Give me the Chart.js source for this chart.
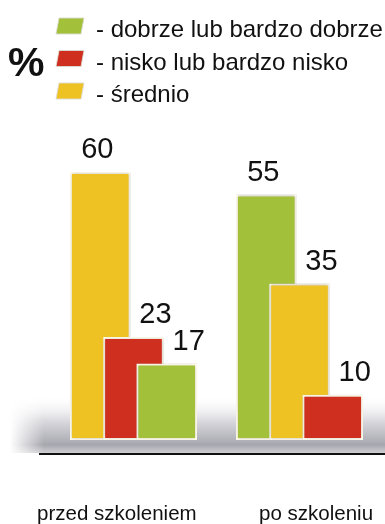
<!DOCTYPE html>
<html lang="pl">
<head>
<meta charset="UTF-8">
<title>Ocena przed i po szkoleniu</title>
<script src="https://cdn.jsdelivr.net/npm/chart.js@4"></script>
<style>
    html, body { margin: 0; padding: 0; background: #fff; }
    #wrap { width: 385px; height: 524px; position: relative; }
</style>
</head>
<body>
<div id="wrap"><canvas id="chart"></canvas></div>
<script>
const categories = ['przed szkoleniem', 'po szkoleniu'];
const seriesNames = ['- dobrze lub bardzo dobrze', '- nisko lub bardzo nisko', '- średnio'];
const seriesColors = ['#a3c03a', '#cf2f1f', '#efc224'];
const dobrze = [17, 55];
const nisko = [23, 10];
const srednio = [60, 35];
const seriesValues = [dobrze, nisko, srednio];

const FONT = "'Liberation Sans', Arial, Helvetica, sans-serif";

// bars of a group stand from the largest (back) to the smallest (front)
const groupOrder = categories.map((c, g) =>
    [0, 1, 2].sort((a, b) => seriesValues[b][g] - seriesValues[a][g]));

const datasets = [0, 1, 2].map(layer => ({
    label: 'warstwa ' + layer,
    data: categories.map((c, g) => ({ x: g + (layer - 1) * 0.2, y: seriesValues[groupOrder[g][layer]][g] })),
    backgroundColor: categories.map((c, g) => seriesColors[groupOrder[g][layer]]),
    borderColor: '#fffbea',
    borderWidth: 2,
    borderSkipped: false,
    barThickness: 60,
    grouped: false,
    order: 3 - layer
}));

const floorPlugin = {
    id: 'floor',
    beforeDatasetsDraw(chart) {
        const { ctx, chartArea } = chart;
        const top = chartArea.bottom - 58;
        const left = chartArea.left - 30;
        const g = ctx.createLinearGradient(0, top, 0, chartArea.bottom);
        g.addColorStop(0, 'rgba(255,255,255,0)');
        g.addColorStop(0.45, 'rgba(212,212,218,0.9)');
        g.addColorStop(0.86, '#a6a6ae');
        g.addColorStop(1, '#cfcfd3');
        ctx.save();
        ctx.fillStyle = g;
        ctx.fillRect(left, top, chartArea.right - left, chartArea.bottom - top);
        // soft left end of the floor
        const h = ctx.createLinearGradient(left, 0, left + 34, 0);
        h.addColorStop(0, 'rgba(255,255,255,1)');
        h.addColorStop(1, 'rgba(255,255,255,0)');
        ctx.fillStyle = h;
        ctx.fillRect(left, top, 34, chartArea.bottom - top);
        ctx.restore();
    },
    beforeDatasetDraw(chart) {
        chart.ctx.save();
        chart.ctx.shadowColor = 'rgba(60,60,90,0.35)';
        chart.ctx.shadowBlur = 3;
    },
    afterDatasetDraw(chart) {
        chart.ctx.restore();
    }
};

const valuePlugin = {
    id: 'values',
    afterDatasetsDraw(chart) {
        const { ctx } = chart;
        ctx.save();
        ctx.fillStyle = '#111';
        ctx.font = '29px ' + FONT;
        ctx.textAlign = 'center';
        ctx.textBaseline = 'alphabetic';
        chart.data.datasets.forEach((ds, layer) => {
            chart.getDatasetMeta(layer).data.forEach((bar, i) => {
                const dx = layer === 0 ? -3 : 22;
                ctx.fillText(String(ds.data[i].y), bar.x + dx, bar.y - 14);
            });
        });
        ctx.restore();
    }
};

const legendPlugin = {
    id: 'legendBox',
    afterDraw(chart) {
        const { ctx } = chart;
        ctx.save();
        ctx.fillStyle = '#111';
        ctx.font = 'bold 41px ' + FONT;
        ctx.textBaseline = 'alphabetic';
        ctx.fillText('%', 8, 76);
        ctx.font = '24px ' + FONT;
        seriesNames.forEach((name, i) => {
            const base = 37 + i * 32.5;
            ctx.beginPath();
            ctx.moveTo(59, base - 19);
            ctx.lineTo(84, base - 19);
            ctx.lineTo(81, base - 3);
            ctx.lineTo(56, base - 3);
            ctx.closePath();
            ctx.fillStyle = seriesColors[i];
            ctx.fill();
            ctx.strokeStyle = 'rgba(220,220,210,0.9)';
            ctx.lineWidth = 1;
            ctx.stroke();
            ctx.fillStyle = '#111';
            ctx.fillText(name, 96, base);
        });
        ctx.restore();
    }
};

new Chart(document.getElementById('chart'), {
    type: 'bar',
    data: { datasets: datasets },
    options: {
        responsive: true,
        maintainAspectRatio: false,
        animation: false,
        layout: { padding: { top: 119, left: 40, right: 0, bottom: 0 } },
        plugins: {
            legend: { display: false },
            tooltip: { enabled: false }
        },
        scales: {
            x: {
                type: 'linear',
                offset: false,
                min: -0.563,
                max: 1.515,
                grid: { display: false, drawTicks: false },
                border: { display: true, color: '#111', width: 3 },
                afterBuildTicks: scale => {
                    scale.ticks = categories.map((c, i) => ({ value: i + (i - 0.5) * 0.2 }));
                },
                afterFit: scale => {
                    // labels sit low under the floor; keep the plot wide
                    scale.paddingLeft = 0;
                    scale.paddingRight = 0;
                    scale.height = 71;
                },
                ticks: {
                    autoSkip: false,
                    maxRotation: 0,
                    padding: 49,
                    color: '#111',
                    font: { family: FONT, size: 20.5 },
                    callback: (v, i) => categories[i]
                }
            },
            y: { display: false, min: -3, max: 72 }
        }
    },
    plugins: [floorPlugin, valuePlugin, legendPlugin]
});
</script>
</body>
</html>
